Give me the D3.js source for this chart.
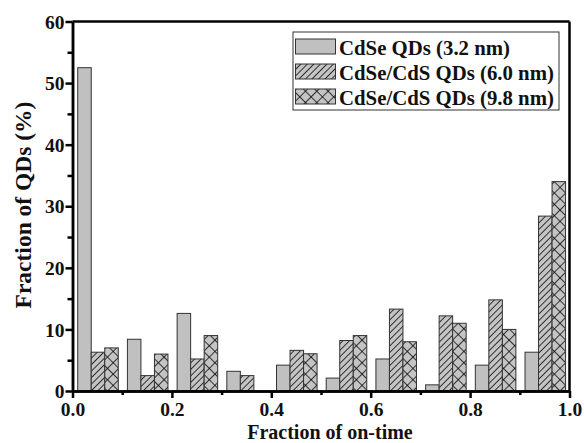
<!DOCTYPE html>
<html><head><meta charset="utf-8">
<script src="https://cdn.jsdelivr.net/npm/d3@7"></script>
<style>
html,body{margin:0;padding:0;background:#fff;}
svg{display:block;}
text{font-family:"Liberation Serif","Times New Roman",serif;font-weight:bold;fill:#111;}
</style></head>
<body><svg id="chart" width="584" height="443"></svg>
<script>
const binStarts = [0.0,0.1,0.2,0.3,0.4,0.5,0.6,0.7,0.8,0.9];
const cdse32 = [52.5,8.4,12.6,3.2,4.2,2.1,5.2,1.0,4.2,6.3];
const cdscds60 = [6.3,2.5,5.2,2.5,6.6,8.2,13.3,12.2,14.8,28.4];
const cdscds98 = [7.0,6.0,9.0,0,6.05,9.0,8.0,11.0,10.0,34.0];
const seriesNames = ["CdSe QDs (3.2 nm)","CdSe/CdS QDs (6.0 nm)","CdSe/CdS QDs (9.8 nm)"];
const xTicks = [0,0.2,0.4,0.6,0.8,1.0];
const yTicks = [0,10,20,30,40,50,60];

const svg = d3.select("#chart");
const M = {l:72.5, r:569.5, t:21.5, b:391};
const x = d3.scaleLinear().domain([0,1]).range([M.l,M.r]);
const y = d3.scaleLinear().domain([0,60]).range([M.b,M.t]);

const defs = svg.append("defs");
const hatch = defs.append("pattern").attr("id","hatch").attr("patternUnits","userSpaceOnUse")
  .attr("width",4.6).attr("height",4.6).attr("patternTransform","rotate(45)");
hatch.append("rect").attr("width",4.6).attr("height",4.6).attr("fill","#c4c4c4");
hatch.append("line").attr("x1",0).attr("y1",0).attr("x2",0).attr("y2",4.6).attr("stroke","#000").attr("stroke-width",1.5);
const cross = defs.append("pattern").attr("id","cross").attr("patternUnits","userSpaceOnUse")
  .attr("width",8).attr("height",8).attr("patternTransform","rotate(45)");
cross.append("rect").attr("width",8).attr("height",8).attr("fill","#c4c4c4");
cross.append("line").attr("x1",0).attr("y1",0).attr("x2",0).attr("y2",8).attr("stroke","#000").attr("stroke-width",1.5);
cross.append("line").attr("x1",0).attr("y1",0).attr("x2",8).attr("y2",0).attr("stroke","#000").attr("stroke-width",1.5);

const fills = ["#c0c0c0","url(#hatch)","url(#cross)"];
const allSeries = [cdse32, cdscds60, cdscds98];
const barW = 0.0272, off = 0.0105;

allSeries.forEach((vals,si)=>{
  svg.append("g").selectAll("rect").data(vals.map((v,i)=>({v, b:binStarts[i]})).filter(d=>d.v>0))
    .join("rect")
    .attr("x",d=>x(d.b+off+si*barW))
    .attr("width",d=>x(barW)-x(0))
    .attr("y",d=>y(d.v))
    .attr("height",d=>y(0)-y(d.v))
    .attr("fill",fills[si])
    .attr("stroke","#333").attr("stroke-width",1);
});

// frame top/right
svg.append("line").attr("x1",M.l).attr("x2",M.r).attr("y1",M.t).attr("y2",M.t).attr("stroke","#000").attr("stroke-width",2.5);
svg.append("line").attr("x1",M.r).attr("x2",M.r).attr("y1",M.t).attr("y2",M.b).attr("stroke","#000").attr("stroke-width",2.5);

// x axis
const xAx = svg.append("g").attr("transform",`translate(0,${M.b})`)
  .call(d3.axisBottom(x).tickValues(xTicks).tickFormat(d3.format(".1f")).tickSize(7).tickSizeOuter(0));
const xMinor = svg.append("g").attr("transform",`translate(0,${M.b})`)
  .call(d3.axisBottom(x).tickValues(d3.range(1,10,2).map(d=>d/10)).tickFormat("").tickSize(4).tickSizeOuter(0));
// y axis
const yAx = svg.append("g").attr("transform",`translate(${M.l},0)`)
  .call(d3.axisLeft(y).tickValues(yTicks).tickSize(7).tickSizeOuter(0));
const yMinor = svg.append("g").attr("transform",`translate(${M.l},0)`)
  .call(d3.axisLeft(y).tickValues(d3.range(5,60,10)).tickFormat("").tickSize(5).tickSizeOuter(0));

[xAx,xMinor,yAx,yMinor].forEach(g=>{
  g.select(".domain").attr("stroke","#000").attr("stroke-width",2.5);
  g.selectAll(".tick line").attr("stroke","#000").attr("stroke-width",2.5);
  g.selectAll(".tick text").style("font-family",'"Liberation Serif","Times New Roman",serif')
    .style("font-weight","bold").style("font-size","19.5px").attr("fill","#111");
});
xAx.selectAll(".tick text").attr("dy",null).attr("y",25);
yAx.selectAll(".tick text").attr("x",-8).attr("dy","0.34em");

// titles
svg.append("text").attr("x",(M.l+M.r)/2 + 9).attr("y",438.5).attr("text-anchor","middle")
  .style("font-size","20px").text("Fraction of on-time");
svg.append("text").attr("transform",`translate(31,205) rotate(-90)`).attr("text-anchor","middle")
  .style("font-size","23.5px").text("Fraction of QDs (%)");

// legend
const lg = svg.append("g");
lg.append("rect").attr("x",293).attr("y",32).attr("width",266).attr("height",78)
  .attr("fill","#fff").attr("stroke","#333").attr("stroke-width",1);
seriesNames.forEach((n,i)=>{
  const yy = 39 + i*25;
  lg.append("rect").attr("x",295.5).attr("y",yy).attr("width",40).attr("height",15)
    .attr("fill",fills[i]).attr("stroke","#333").attr("stroke-width",1);
  lg.append("text").attr("x",339).attr("y",yy+15.5).style("font-size","20.8px").text(n);
});
</script></body></html>
